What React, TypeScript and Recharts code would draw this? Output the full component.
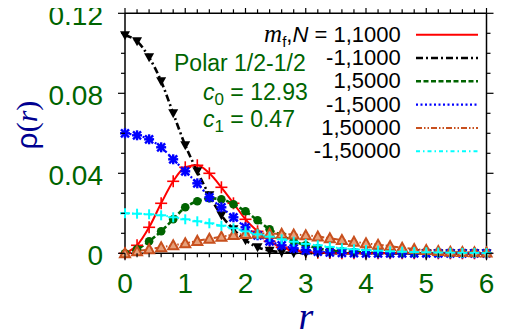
import React from 'react';
import { LineChart, Line, XAxis, YAxis, ReferenceLine } from 'recharts';

// radial grid r = 0, 0.2, ... 6
const rValues = [
  0, 0.2, 0.4, 0.6, 0.8, 1.0, 1.2, 1.4, 1.6, 1.8, 2.0, 2.2, 2.4, 2.6, 2.8, 3.0,
  3.2, 3.4, 3.6, 3.8, 4.0, 4.2, 4.4, 4.6, 4.8, 5.0, 5.2, 5.4, 5.6, 5.8, 6.0,
];

// rho(r) for each (m_f, N)
const p1n1000 = [
  0, 0.004, 0.013, 0.025, 0.036, 0.043, 0.044, 0.04, 0.033, 0.025, 0.017, 0.011, 0.006, 0.003, 0.0015, 0.0007,
  0.0003, 0.0001, 0, 0, 0, 0, 0, 0, 0, 0, 0, 0, 0, 0, 0,
];
const m1n1000 = [
  0.109, 0.106, 0.098, 0.086, 0.07, 0.054, 0.041, 0.029, 0.019, 0.012, 0.0065, 0.003, 0.0013, 0.0005, 0.0002, 0,
  0, 0, 0, 0, 0, 0, 0, 0, 0, 0, 0, 0, 0, 0, 0,
];
const p1n5000 = [
  0, 0.002, 0.006, 0.011, 0.017, 0.023, 0.026, 0.0275, 0.027, 0.0245, 0.021, 0.0165, 0.012, 0.009, 0.006, 0.004,
  0.0025, 0.0015, 0.001, 0.0006, 0.0004, 0.0002, 0.0001, 0, 0, 0, 0, 0, 0, 0, 0,
];
const m1n5000 = [
  0.06, 0.059, 0.057, 0.053, 0.047, 0.041, 0.035, 0.028, 0.023, 0.018, 0.013, 0.009, 0.006, 0.004, 0.0025, 0.0015,
  0.0008, 0.0004, 0.0002, 0.0001, 0, 0, 0, 0, 0, 0, 0, 0, 0, 0, 0,
];
const p1n50000 = [
  0, 0.001, 0.002, 0.003, 0.004, 0.005, 0.0062, 0.0073, 0.0083, 0.0092, 0.0097, 0.0099, 0.0098, 0.0097, 0.0094, 0.009,
  0.0084, 0.0075, 0.0066, 0.0058, 0.005, 0.0043, 0.0036, 0.0028, 0.0021, 0.0016, 0.0011, 0.0008, 0.0006, 0.0005, 0.0004,
];
const m1n50000 = [
  0.02, 0.0198, 0.0195, 0.019, 0.018, 0.017, 0.016, 0.015, 0.0138, 0.0125, 0.011, 0.0095, 0.0083, 0.007, 0.0058, 0.0047,
  0.004, 0.0032, 0.0025, 0.002, 0.0016, 0.0013, 0.001, 0.0008, 0.0006, 0.0005, 0.0004, 0.0003, 0.0002, 0.0002, 0.0001,
];

const legendLabels = ['1,1000', '-1,1000', '1,5000', '-1,5000', '1,50000', '-1,50000'];
const xTickLabels = ['0', '1', '2', '3', '4', '5', '6'];
const yTickLabels = ['0', '0.04', '0.08', '0.12'];
const xMajor = [0, 1, 2, 3, 4, 5, 6];
const yMajor = [0, 0.04, 0.08, 0.12];

const xMinor = Array.from({ length: 31 }, (_, i) => i / 5);
const yMinor = Array.from({ length: 13 }, (_, i) => i / 100);

const GREEN = '#006400';
const NAVY = '#000090';
const SANS = '"Liberation Sans", Arial, Helvetica, sans-serif';
const SERIF = '"Liberation Serif", "Times New Roman", serif';

// chart box
const W = 509;
const H = 334;
const M_TOP = 13.3;
const M_RIGHT = 22.5;
const Y_AXIS_W = 125;
const X_AXIS_H = 80.7;
const PLOT_TOP = M_TOP;
const PLOT_RIGHT = W - M_RIGHT;

const data = rValues.map((r, i) => ({
  r,
  a: p1n1000[i],
  b: m1n1000[i],
  c: p1n5000[i],
  d: m1n5000[i],
  e: p1n50000[i],
  f: m1n50000[i],
}));

type Marker = 'plus' | 'tridown' | 'circle' | 'star' | 'triup' | 'cross';

const series: { key: string; color: string; dash?: string; width: number; marker: Marker }[] = [
  { key: 'a', color: '#ff0000', width: 2, marker: 'plus' },
  { key: 'b', color: '#000000', dash: '7 3 2 3', width: 2.6, marker: 'tridown' },
  { key: 'c', color: '#006400', dash: '5 2.5', width: 2.6, marker: 'circle' },
  { key: 'd', color: '#0000ff', dash: '2 2.5', width: 2.2, marker: 'star' },
  { key: 'e', color: '#c8501e', dash: '6 2 1.5 2 1.5 2', width: 2, marker: 'triup' },
  { key: 'f', color: '#00ffff', dash: '4 3 1.5 3', width: 2, marker: 'cross' },
];

function drawMarker(m: Marker, cx: number, cy: number, color: string, key?: React.Key) {
  switch (m) {
    case 'plus':
      return (
        <g key={key} stroke={color} strokeWidth={1.6}>
          <line x1={cx - 6} y1={cy} x2={cx + 6} y2={cy} />
          <line x1={cx} y1={cy - 6} x2={cx} y2={cy + 6} />
        </g>
      );
    case 'cross':
      return (
        <g key={key} stroke={color} strokeWidth={2}>
          <line x1={cx - 5} y1={cy} x2={cx + 5} y2={cy} />
          <line x1={cx} y1={cy - 5} x2={cx} y2={cy + 5} />
        </g>
      );
    case 'tridown':
      return <path key={key} d={`M${cx - 5},${cy - 4} L${cx + 5},${cy - 4} L${cx},${cy + 5} Z`} fill={color} />;
    case 'triup':
      return (
        <path
          key={key}
          d={`M${cx - 5},${cy + 4} L${cx + 5},${cy + 4} L${cx},${cy - 5} Z`}
          fill="#e6a07a"
          stroke={color}
          strokeWidth={2}
        />
      );
    case 'circle':
      return <circle key={key} cx={cx} cy={cy} r={4.3} fill={color} />;
    case 'star':
      return (
        <g key={key} stroke={color} strokeWidth={2.4}>
          <line x1={cx - 5} y1={cy} x2={cx + 5} y2={cy} />
          <line x1={cx} y1={cy - 5} x2={cx} y2={cy + 5} />
          <line x1={cx - 4} y1={cy - 4} x2={cx + 4} y2={cy + 4} />
          <line x1={cx - 4} y1={cy + 4} x2={cx + 4} y2={cy - 4} />
        </g>
      );
  }
  return null;
}

const near = (a: number, b: number) => Math.abs(a - b) < 1e-6;

// bottom tick also mirrors its mark on the top frame edge
function BottomTick(props: any) {
  const { x, y, payload } = props;
  const idx = xMajor.findIndex((v) => near(v, payload.value));
  const major = idx >= 0;
  const len = major ? 7 : 4;
  return (
    <g>
      <line x1={x} y1={y} x2={x} y2={y + len} stroke="#000" strokeWidth={1.2} />
      <line x1={x} y1={PLOT_TOP} x2={x} y2={PLOT_TOP - len} stroke="#000" strokeWidth={1.2} />
      {major && (
        <text x={x} y={y + 40} textAnchor="middle" fill={GREEN} fontSize={28} fontFamily={SANS}>
          {xTickLabels[idx]}
        </text>
      )}
    </g>
  );
}

// left tick also mirrors its mark on the right frame edge
function LeftTick(props: any) {
  const { x, y, payload } = props;
  const idx = yMajor.findIndex((v) => near(v, payload.value));
  const major = idx >= 0;
  const len = major ? 7 : 4;
  return (
    <g>
      <line x1={x - len} y1={y} x2={x} y2={y} stroke="#000" strokeWidth={1.2} />
      <line x1={PLOT_RIGHT} y1={y} x2={PLOT_RIGHT + len} y2={y} stroke="#000" strokeWidth={1.2} />
      {major && (
        <text x={x - 22} y={y + 11.2} textAnchor="end" fill={GREEN} fontSize={28} fontFamily={SANS}>
          {yTickLabels[idx]}
        </text>
      )}
    </g>
  );
}

const axisLine = { stroke: '#000', strokeWidth: 1.5 };

export default function App() {
  const legendBase = [41.7, 65, 88.3, 111.7, 135, 158.3];
  return (
    <div style={{ position: 'relative', left: -8, top: -8, width: W, height: H }}>
      <LineChart width={W} height={H} data={data} margin={{ top: M_TOP, right: M_RIGHT, bottom: 0, left: 0 }}>
        <XAxis
          dataKey="r"
          type="number"
          domain={[0, 6]}
          ticks={xMinor}
          interval={0}
          height={X_AXIS_H}
          tickSize={0}
          tickMargin={0}
          tickLine={false}
          axisLine={axisLine}
          tick={<BottomTick />}
        />
        <YAxis
          type="number"
          domain={[0, 0.12]}
          ticks={yMinor}
          interval={0}
          width={Y_AXIS_W}
          tickSize={0}
          tickMargin={0}
          tickLine={false}
          axisLine={axisLine}
          tick={<LeftTick />}
        />
        <ReferenceLine y={0.12} stroke="#000" strokeWidth={1.5} />
        <ReferenceLine x={6} stroke="#000" strokeWidth={1.5} />
        {series.map((s) => (
          <Line
            key={s.key}
            type="monotone"
            dataKey={s.key}
            stroke={s.color}
            strokeWidth={s.width}
            strokeDasharray={s.dash}
            isAnimationActive={false}
            activeDot={false}
            dot={(p: any) => drawMarker(s.marker, p.cx, p.cy, s.color, `${s.key}-${p.index}`)}
          />
        ))}
      </LineChart>
      <svg width={W} height={H} style={{ position: 'absolute', left: 0, top: 0, pointerEvents: 'none' }}>
        {/* legend */}
        {legendLabels.map((lab, i) => {
          const s = series[i];
          const y = legendBase[i];
          return (
            <g key={lab}>
              <text x={400.7} y={y} textAnchor="end" fontSize={22} fontFamily={SANS} fill="#000">
                {i === 0 && (
                  <>
                    <tspan fontFamily={SERIF} fontStyle="italic" fontSize={25}>m</tspan>
                    <tspan fontSize={15} dy={5}>f</tspan>
                    <tspan dy={-5}>,</tspan>
                    <tspan fontStyle="italic">N</tspan>
                    <tspan> = </tspan>
                  </>
                )}
                <tspan>{lab}</tspan>
              </text>
              <line
                x1={416}
                x2={478}
                y1={y - 7}
                y2={y - 7}
                stroke={s.color}
                strokeWidth={s.width}
                strokeDasharray={s.dash}
              />
            </g>
          );
        })}
        {/* annotation */}
        <text x={174} y={71} fontSize={23} fontFamily={SANS} fill={GREEN}>
          Polar 1/2-1/2
        </text>
        <text x={203} y={100} fontSize={23} fontFamily={SANS} fill={GREEN}>
          <tspan fontStyle="italic">c</tspan>
          <tspan fontSize={17} dy={5}>0</tspan>
          <tspan dy={-5}> = 12.93</tspan>
        </text>
        <text x={203} y={126.7} fontSize={23} fontFamily={SANS} fill={GREEN}>
          <tspan fontStyle="italic">c</tspan>
          <tspan fontSize={17} dy={5}>1</tspan>
          <tspan dy={-5}> = 0.47</tspan>
        </text>
        {/* axis titles */}
        <text
          x={37}
          y={125}
          transform="rotate(-90 37 125)"
          textAnchor="middle"
          fontSize={30}
          fill={NAVY}
          fontFamily={SERIF}
        >
          <tspan fontFamily={SANS}>ρ</tspan>
          <tspan>(</tspan>
          <tspan fontStyle="italic">r</tspan>
          <tspan>)</tspan>
        </text>
        <text x={306} y={329} textAnchor="middle" fontSize={38} fontStyle="italic" fill={NAVY} fontFamily={SERIF}>
          r
        </text>
      </svg>
    </div>
  );
}
